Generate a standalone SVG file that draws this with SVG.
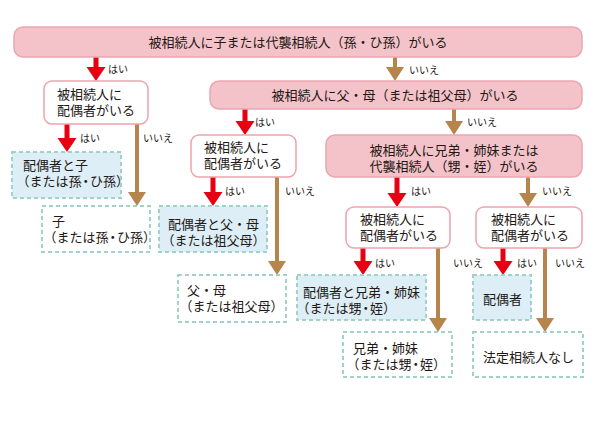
<svg xmlns="http://www.w3.org/2000/svg" width="595" height="425" viewBox="0 0 595 425">
<style>
text{font-family:"Noto Sans CJK JP","Noto Sans",sans-serif;fill:#231815}
.t{font-size:13px}
.l{font-size:10px}
.h{font-feature-settings:"halt"}
.d{font-feature-settings:"halt";letter-spacing:1px}
.bar{fill:#f4c3c9;stroke:#eba7b0;stroke-width:1.5}
.q{fill:#fff;stroke:#f0a3ac;stroke-width:1.5}
.ra{fill:#fff;stroke:#9fd3c8;stroke-width:2;stroke-dasharray:4 3}
.rb{fill:#ddeef6;stroke:#9fd3c8;stroke-width:2;stroke-dasharray:4 3}
.red{fill:#e60012}
.brn{fill:#b5854b}
</style>
<rect width="595" height="425" fill="#fff"/>
<g id="connectors">
<path class="red" d="M93.5 57V67H86.5L96 81L105.5 67H98.5V57Z"/>
<text class="l" x="108" y="73">はい</text>
<path class="brn" d="M393 57V67H386L395 81L404 67H397V57Z"/>
<text class="l" x="409" y="74">いいえ</text>
<path class="red" d="M64.5 124V138H57.5L67 152L76.5 138H69.5V124Z"/>
<text class="l" x="80" y="142">はい</text>
<path class="brn" d="M135 124V192H128L137 206L146 192H139V124Z"/>
<text class="l" x="143" y="142">いいえ</text>
<path class="red" d="M242.5 109V121H235.5L245 135L254.5 121H247.5V109Z"/>
<text class="l" x="255" y="126">はい</text>
<path class="brn" d="M452 109V121H445L454 135L463 121H456V109Z"/>
<text class="l" x="467" y="126">いいえ</text>
<path class="red" d="M210.5 177V192H203.5L213 206L222.5 192H215.5V177Z"/>
<text class="l" x="225" y="195">はい</text>
<path class="brn" d="M275 177V261H268L277 275L286 261H279V177Z"/>
<text class="l" x="285" y="195">いいえ</text>
<path class="red" d="M394.5 177V193H387.5L397 207L406.5 193H399.5V177Z"/>
<text class="l" x="411" y="195">はい</text>
<path class="brn" d="M526 177V193H519L528 207L537 193H530V177Z"/>
<text class="l" x="542" y="195">いいえ</text>
<path class="red" d="M360.5 248V261H353.5L363 275L372.5 261H365.5V248Z"/>
<text class="l" x="375" y="267">はい</text>
<path class="brn" d="M436 248V318H429L438 332L447 318H440V248Z"/>
<text class="l" x="453" y="267">いいえ</text>
<path class="red" d="M500.5 248V261H493.5L503 275L512.5 261H505.5V248Z"/>
<text class="l" x="517" y="267">はい</text>
<path class="brn" d="M543 248V318H536L545 332L554 318H547V248Z"/>
<text class="l" x="555" y="267">いいえ</text>
</g>
<g id="q1">
<rect class="bar" x="14" y="27" width="568" height="30" rx="9"/>
<text class="t" x="298" y="47" text-anchor="middle">被相続人に子または代襲相続人（孫・ひ孫）がいる</text>
</g>
<g id="q2">
<rect class="bar" x="210" y="81" width="372" height="28" rx="9"/>
<text class="t" x="395" y="100" text-anchor="middle">被相続人に父・母（または祖父母）がいる</text>
</g>
<g id="q3">
<rect class="bar" x="326" y="135" width="256" height="42" rx="9"/>
<text class="t" text-anchor="middle"><tspan x="454" y="155">被相続人に兄弟・姉妹または</tspan><tspan x="454" y="171">代襲相続人（甥・姪）がいる</tspan></text>
</g>
<g id="s1">
<rect class="q" x="44" y="81" width="104" height="43" rx="8"/>
<text class="t"><tspan x="57" y="99">被相続人に</tspan><tspan x="57" y="115">配偶者がいる</tspan></text>
</g>
<g id="s2">
<rect class="q" x="191" y="135" width="105" height="42" rx="8"/>
<text class="t"><tspan x="204" y="152">被相続人に</tspan><tspan x="204" y="168">配偶者がいる</tspan></text>
</g>
<g id="s3">
<rect class="q" x="346" y="207" width="104" height="41" rx="8"/>
<text class="t"><tspan x="360" y="224">被相続人に</tspan><tspan x="360" y="240">配偶者がいる</tspan></text>
</g>
<g id="s4">
<rect class="q" x="476" y="207" width="106" height="41" rx="8"/>
<text class="t"><tspan x="491" y="224">被相続人に</tspan><tspan x="491" y="240">配偶者がいる</tspan></text>
</g>
<g id="r1">
<rect class="rb" x="12" y="152" width="109" height="46"/>
<text class="t"><tspan x="23" y="170">配偶者と子</tspan><tspan x="23" y="186" class="h">（</tspan>または孫<tspan class="d" dx="1">・</tspan>ひ孫<tspan class="h">）</tspan></text>
</g>
<g id="r2">
<rect class="ra" x="42" y="206" width="108" height="46"/>
<text class="t"><tspan x="52" y="226">子</tspan><tspan x="50" y="242" class="h">（</tspan>または孫<tspan class="d" dx="1">・</tspan>ひ孫<tspan class="h">）</tspan></text>
</g>
<g id="r3">
<rect class="rb" x="159" y="206" width="108" height="46"/>
<text class="t"><tspan x="168" y="229">配偶者と父・母</tspan><tspan x="168" y="245" class="h">（</tspan>または祖父母<tspan class="h">）</tspan></text>
</g>
<g id="r4">
<rect class="ra" x="178" y="275" width="108" height="47"/>
<text class="t"><tspan x="187" y="295">父・母</tspan><tspan x="186" y="311" class="h">（</tspan>または祖父母<tspan class="h">）</tspan></text>
</g>
<g id="r5">
<rect class="rb" x="297" y="275" width="129" height="45"/>
<text class="t"><tspan x="303" y="297">配偶者と兄弟・姉妹</tspan><tspan x="303" y="313" class="h">（</tspan>または甥<tspan class="d" dx="1">・</tspan>姪<tspan class="h">）</tspan></text>
</g>
<g id="r6">
<rect class="ra" x="343" y="332" width="109" height="45"/>
<text class="t"><tspan x="353" y="353">兄弟・姉妹</tspan><tspan x="353" y="369" class="h">（</tspan>または甥<tspan class="d" dx="1">・</tspan>姪<tspan class="h">）</tspan></text>
</g>
<g id="r7">
<rect class="rb" x="473" y="275" width="58" height="45"/>
<text class="t" x="483" y="304">配偶者</text>
</g>
<g id="r8">
<rect class="ra" x="473" y="332" width="110" height="45"/>
<text class="t" x="483" y="362">法定相続人なし</text>
</g>
</svg>
